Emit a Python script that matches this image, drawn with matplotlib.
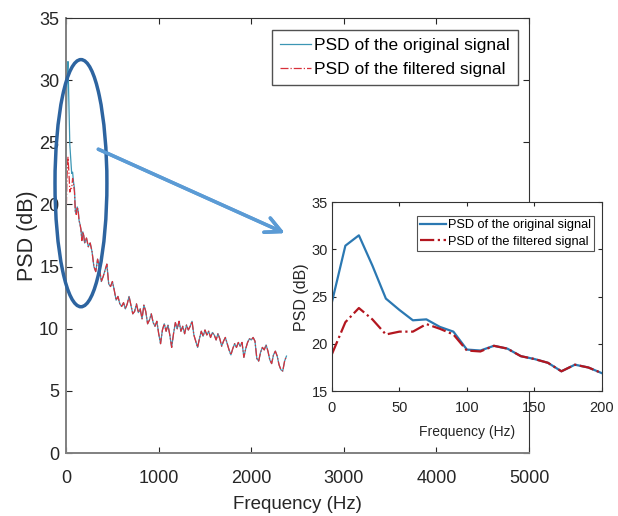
import numpy as np
import matplotlib
matplotlib.use('Agg')
import matplotlib.pyplot as plt
from matplotlib.patches import Ellipse

plt.rcParams['font.family'] = ['Liberation Sans', 'DejaVu Sans']

# low frequency part (also shown in the zoomed inset)
freq_low = np.arange(0, 201, 10)
psd_orig_low = [24.4, 30.4, 31.5, 28.3, 24.8, 23.6, 22.5, 22.6, 21.8, 21.3,
                19.4, 19.3, 19.8, 19.5, 18.7, 18.4, 18.0, 17.1, 17.8, 17.5, 16.9]
psd_filt_low = [18.9, 22.3, 23.8, 22.6, 21.0, 21.3, 21.3, 22.1, 21.6, 21.0,
                19.3, 19.2, 19.8, 19.5, 18.7, 18.4, 18.0, 17.1, 17.8, 17.5, 16.9]

# rest of the spectrum, both signals overlap here
freq_high = np.arange(220, 2381, 20)
psd_high = [17.3, 16.6, 16.9, 16.2, 15.0, 14.6, 15.6, 14.9, 13.8, 14.2,
            14.7, 15.2, 13.6, 13.4, 13.8, 13.1, 12.3, 12.6, 12.0, 11.8,
            12.1, 11.6, 12.0, 12.6, 11.9, 11.2, 11.4, 12.0, 11.3, 11.6,
            10.8, 11.9, 11.4, 10.4, 10.7, 11.2, 10.5, 10.2, 10.6, 9.6,
            8.8, 9.9, 10.4, 9.8, 10.3, 9.5, 8.5, 9.6, 10.5, 10.0,
            10.6, 9.8, 10.2, 9.6, 10.3, 9.9, 10.2, 10.6, 9.5, 9.0,
            8.5, 9.2, 9.8, 9.4, 9.9, 9.5, 9.8, 9.3, 9.7, 9.5,
            9.1, 9.6, 9.2, 8.6, 9.0, 9.3, 8.8, 8.3, 7.9, 8.4,
            8.8, 8.5, 8.9, 8.6, 8.9, 7.7, 8.4, 8.9, 9.2, 9.1,
            9.3, 9.0, 7.6, 7.4, 8.1, 8.5, 8.3, 8.7, 8.2, 7.5,
            7.2, 7.9, 8.2, 7.8, 7.1, 6.7, 6.6, 7.4, 7.8]

freq = np.concatenate([freq_low, freq_high])
psd_orig = np.concatenate([psd_orig_low, psd_high])
psd_filt = np.concatenate([psd_filt_low, psd_high])

lab_orig = 'PSD of the original signal'
lab_filt = 'PSD of the filtered signal'

fig = plt.figure(figsize=(6.18, 5.16), dpi=100)

# main axes
ax = fig.add_axes([0.107, 0.122, 0.749, 0.843])
ax.plot(freq, psd_orig, color='#3c96b4', lw=0.9, label=lab_orig)
ax.plot(freq, psd_filt, color='#d8303a', lw=0.9, ls='-.', label=lab_filt)
ax.set_xlim(0, 5000)
ax.set_ylim(0, 35)
ax.set_xticks(range(0, 5001, 1000))
ax.set_yticks(range(0, 36, 5))
ax.tick_params(direction='in', length=4, labelsize=13, top=True, right=True,
               colors='#262626', pad=5)
ax.tick_params(axis='x', pad=12)
for s in ['left', 'bottom']:
    ax.spines[s].set_color('#808080')
    ax.spines[s].set_linewidth(1.4)
for s in ['top', 'right']:
    ax.spines[s].set_color('#333333')
ax.set_xlabel('Frequency (Hz)', fontsize=13.5, color='#262626', labelpad=7)
ax.set_ylabel('PSD (dB)', fontsize=15.5, color='#262626', labelpad=1)
leg = ax.legend(loc='upper right', bbox_to_anchor=(0.976, 0.972), fontsize=12.5,
                frameon=True, fancybox=False, handlelength=1.8,
                borderpad=0.45, labelspacing=0.5, handletextpad=0.2,
                borderaxespad=0)
leg.get_frame().set_edgecolor('#262626')
leg.get_frame().set_linewidth(1.0)

# zoomed inset
ins = fig.add_axes([0.537, 0.242, 0.437, 0.366])
ins.plot(freq_low, psd_orig_low, color='#2b78b2', lw=1.6, label=lab_orig)
ins.plot(freq_low, psd_filt_low, color='#b3161f', lw=1.6, ls='-.', label=lab_filt)
ins.set_xlim(0, 200)
ins.set_ylim(15, 35)
ins.set_xticks(range(0, 201, 50))
ins.set_yticks(range(15, 36, 5))
ins.tick_params(direction='in', length=3, labelsize=10.5, top=True, right=True,
                colors='#262626', pad=3)
ins.tick_params(axis='x', pad=7)
for s in ins.spines.values():
    s.set_color('#333333')
ins.set_xlabel('Frequency (Hz)', fontsize=10, color='#262626', labelpad=7)
ins.set_ylabel('PSD (dB)', fontsize=11.5, color='#262626', labelpad=2)
leg2 = ins.legend(loc='upper right', bbox_to_anchor=(0.970, 0.926), fontsize=9.2,
                  frameon=True, fancybox=False, handlelength=2.0,
                  borderpad=0.25, labelspacing=0.35, handletextpad=0.15,
                  borderaxespad=0)
leg2.get_frame().set_edgecolor('#262626')
leg2.get_frame().set_linewidth(0.8)

# ellipse around the low frequency peak and arrow to the inset
ell = Ellipse((0.131, 0.645), 0.084, 0.479, transform=fig.transFigure,
              fill=False, edgecolor='#2d64a0', lw=2.5)
fig.add_artist(ell)
fig.add_artist(plt.annotate('', xy=(0.465, 0.546), xytext=(0.155, 0.713),
                            xycoords='figure fraction', textcoords='figure fraction',
                            arrowprops=dict(arrowstyle='->', color='#5b9bd5', lw=2.5,
                                            mutation_scale=28)))

fig.savefig('out.png', dpi=100)
